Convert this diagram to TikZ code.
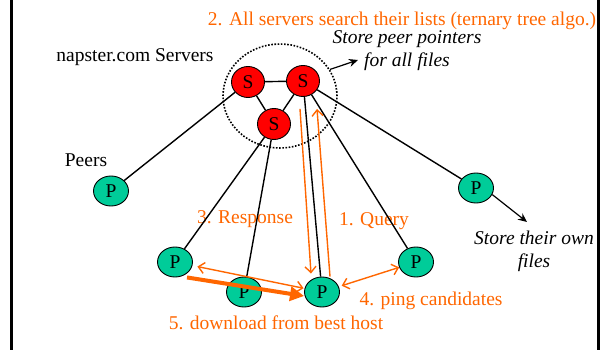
\documentclass[tikz,border=0pt]{standalone}
\usepackage{fontspec}
\setmainfont{Liberation Serif}
\usetikzlibrary{shapes.geometric,arrows.meta}
\definecolor{peergreen}{RGB}{0,204,153}
\definecolor{srvred}{RGB}{255,0,0}
\definecolor{ornge}{RGB}{255,102,0}
\begin{document}
\begin{tikzpicture}[x=1pt,y=-1pt,
  every node/.style={font=\fontsize{19.5}{23}\selectfont},
  srv/.style={ellipse, draw, line width=0.9pt, fill=srvred, minimum width=33pt, minimum height=31pt, inner sep=0pt},
  peer/.style={ellipse, draw, line width=0.9pt, fill=peergreen, minimum width=35pt, minimum height=30pt, inner sep=0pt},
  link/.style={line width=1.4pt},
  olink/.style={draw=ornge, line width=1.4pt},
  barb/.style={-{Straight Barb[length=6pt,width=11pt,line width=1.4pt]}},
  dbarb/.style={{Straight Barb[length=6pt,width=11pt,line width=1.4pt]}-{Straight Barb[length=6pt,width=11pt,line width=1.4pt]}},
  blackarrow/.style={line width=1.2pt, -{Stealth[length=9pt,width=8pt]}},
  lbl/.style={inner sep=0pt},
  otext/.style={lbl, text=ornge},
  note/.style={lbl, font=\fontsize{19.5}{23}\selectfont\itshape, align=center}]
\useasboundingbox (0,0) rectangle (603,350);
\draw[line width=3pt] (11,0) -- (11,350);
\draw[line width=3pt] (598.5,0) -- (598.5,350);

% server group
\node[ellipse, draw, line width=1.6pt, dash pattern=on 1.6pt off 1.6pt, minimum width=114pt, minimum height=104pt, inner sep=0pt] (grp) at (280,96) {};

\node[srv] (s1) at (248,82) {S};
\node[srv] (s2) at (303,81) {S};
\node[srv] (s3) at (274,124) {S};

% peers
\node[peer] (p1) at (111,191) {P};
\node[peer] (pR) at (476,188) {P};
\node[peer] (pl) at (175,262) {P};
\node[peer] (pm) at (244,292) {P};
\node[peer] (pc) at (322,292) {P};
\node[peer] (pr) at (416,262) {P};

% texts
\node[otext] (t2) at (402,21) {2. All servers search their lists (ternary tree algo.)};
\node[lbl] (tnap) at (135,57) {napster.com Servers};
\node[lbl] (tpeers) at (86,160) {Peers};
\node[note] (tstore) at (407,51) {Store peer pointers\\for all files};
\node[note] (town) at (534,251) {Store their own\\files};
\node[otext] (tresp) at (245,219) {3. Response};
\node[otext] (tq) at (374,221) {1. Query};
\node[otext] (tping) at (431,301) {4. ping candidates};
\node[otext] (tdl) at (276,323) {5. download from best host};

\coordinate (storetip) at (358,60);
\coordinate (owntip) at (527,222);

% black links
\draw[link] (s1) -- (s2);
\draw[link] (s1) -- (s3);
\draw[link] (s2) -- (s3);
\draw[link] (s1) -- (p1);
\draw[link] (s3) -- (pl);
\draw[link] (s3) -- (pm);
\draw[link] (s2) -- (pc);
\draw[link] (s2) -- (pr);
\draw[link] (s2) -- (pR);

\draw[blackarrow] (grp.28) -- (storetip);
\draw[blackarrow] (pR.-22) -- (owntip);

% orange arrows
\draw[olink, barb] ([xshift=8pt]pc.north) -- ([xshift=14pt,yshift=-12pt]s2.south);
\draw[olink, barb] ([xshift=-3pt,yshift=-12pt]s2.south) -- ([xshift=-11pt,yshift=3pt]pc.north);
\draw[olink, dbarb, shorten <=5pt, shorten >=1pt] (pl) -- (pc);
\draw[olink, dbarb, shorten <=3pt] (pc) -- (pr);
\draw[draw=ornge, line width=4pt, -{Triangle[length=14pt,width=14pt]}] ([xshift=12pt]pl.south) -- ([yshift=-4pt]pc.west);
\end{tikzpicture}
\end{document}
